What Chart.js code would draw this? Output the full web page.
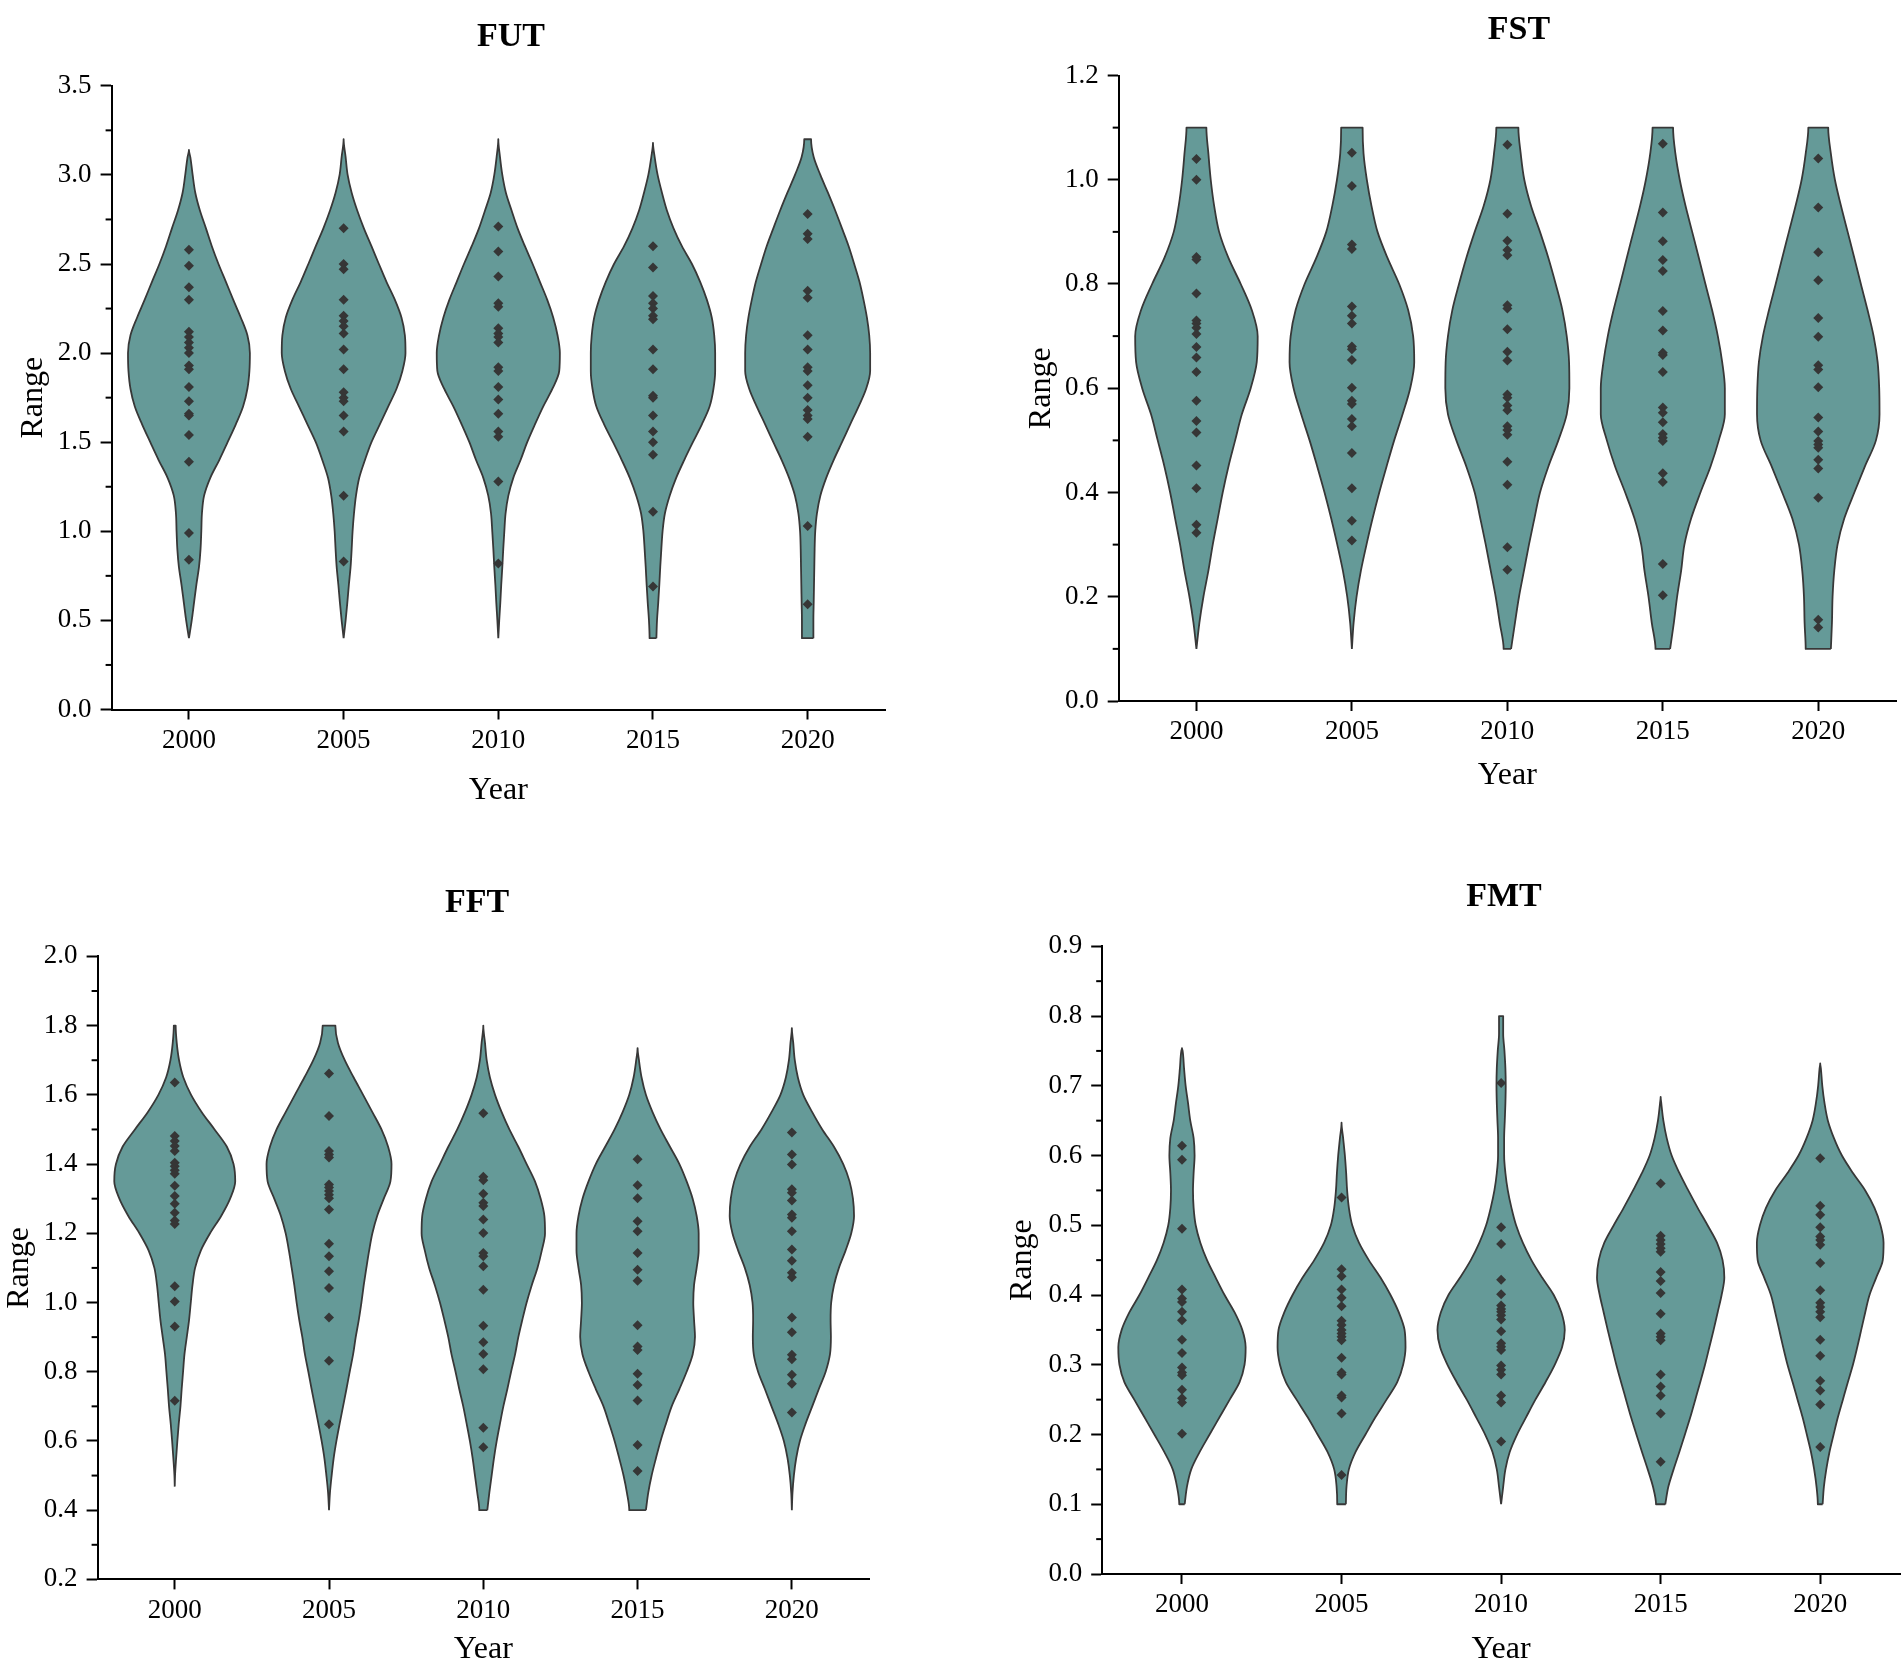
<!DOCTYPE html>
<html>
<head>
<meta charset="utf-8">
<script src="https://cdn.jsdelivr.net/npm/chart.js@4.4.1/dist/chart.umd.min.js"></script>
<style>
html,body{margin:0;padding:0;width:1902px;height:1663px;overflow:hidden;background:#fff;}
.panel{position:absolute;}
</style>
</head>
<body>
<div class="panel" id="w0"><canvas id="c0"></canvas></div>
<div class="panel" id="w1"><canvas id="c1"></canvas></div>
<div class="panel" id="w2"><canvas id="c2"></canvas></div>
<div class="panel" id="w3"><canvas id="c3"></canvas></div>
<script>
// ---------------- DATA ----------------
const years = [2000, 2005, 2010, 2015, 2020];

// FUT
const futYTicks = [0.0, 0.5, 1.0, 1.5, 2.0, 2.5, 3.0, 3.5];
const futLevels = [0.4,0.5,0.6,0.7,0.8,0.9,1.0,1.1,1.2,1.3,1.4,1.5,1.6,1.7,1.8,1.9,2.0,2.1,2.2,2.3,2.4,2.5,2.6,2.7,2.8,2.9,3.0,3.1,3.2];
const futWidth = [
  [0,1.8,3.3,4.8,6.5,7.5,8.0,8.4,9.8,13.8,19.6,25,30.3,35,37.8,39.1,39.4,37.8,33.5,28.6,23.9,19.1,14.8,11,7.1,4.1,2.4,0.9,null],
  [0,1.3,2.4,3.4,4.5,5.2,5.8,6.7,8,10.1,13.8,18,23.4,28.8,34.2,38,40,39.6,37.4,33.1,27.7,22.8,18,13.1,8.8,5.2,2.6,1.3,0],
  [0,0.6,1.3,1.9,2.6,3.2,3.9,4.7,6.5,9.7,14.4,18.7,23.7,29,35,39.4,39.8,38.3,35.5,31.6,26.9,22.2,17.2,12.5,8.6,4.9,2.6,1.1,0],
  [2.2,2.6,3.4,4.1,4.7,5.4,6.2,7.7,10.8,15,20.2,25.8,31.6,36.6,39.1,40.2,40.2,39.6,38,34.8,30.5,25.2,18.7,13.3,9,5.8,3,1.1,null],
  [3.7,3.7,3.9,4.1,4.3,4.5,4.9,6,8.2,12,16.8,22.2,27.5,32.9,37.8,40.4,40.4,39.8,38.3,36.1,33.5,30.1,26.5,22.2,17.8,13.1,8.2,3.9,2.2]
];
const futTop = [3.14, 3.2, 3.2, 3.18, 3.2];
const futBottom = [0.4, 0.4, 0.4, 0.4, 0.4];
const futPoints = [
  [2.58,2.49,2.37,2.30,2.12,2.09,2.06,2.03,2.00,1.93,1.91,1.81,1.73,1.66,1.65,1.54,1.39,0.99,0.84],
  [2.70,2.50,2.47,2.30,2.21,2.18,2.15,2.11,2.02,1.91,1.78,1.75,1.73,1.65,1.56,1.20,0.83],
  [2.71,2.57,2.43,2.28,2.26,2.14,2.11,2.09,2.06,1.92,1.90,1.81,1.74,1.66,1.56,1.53,1.28,0.82],
  [2.60,2.48,2.32,2.28,2.25,2.21,2.19,2.02,1.91,1.76,1.75,1.65,1.56,1.50,1.43,1.11,0.69],
  [2.78,2.67,2.64,2.35,2.31,2.10,2.02,1.92,1.90,1.82,1.75,1.68,1.65,1.63,1.53,1.03,0.59]
];

// FST
const fstYTicks = [0.0, 0.2, 0.4, 0.6, 0.8, 1.0, 1.2];
const fstLevels = [0.1,0.15,0.2,0.25,0.3,0.35,0.4,0.45,0.5,0.55,0.6,0.65,0.7,0.75,0.8,0.85,0.9,0.95,1.0,1.05,1.1];
const fstWidth = [
  [0,1.9,4.5,7.7,10.5,13.7,16.9,20.6,24.9,29.2,34.9,38.8,39.4,35.6,28.5,20.6,14.6,11.4,9.2,7.7,6.4],
  [0,1.1,3,5.8,9.4,13.3,17.6,22.3,27.2,32.6,37.5,40.1,39.4,36.2,30.4,22.9,16.5,12.6,9.6,7.5,6.9],
  [2.4,4.9,7.5,10.7,13.9,17.4,21,26.4,32.8,38.2,39.9,39.7,38.2,35.4,31.1,26.4,21,15.2,10.9,8.6,7.1],
  [4.7,7.1,9.2,11.8,13.9,18.2,24.2,30.7,36,39.9,39.9,38.2,35.4,31.7,27.4,23.2,18.9,14.6,10.9,8.1,6.6],
  [8.1,8.8,9.2,10.3,12.4,16.7,23.2,30,37.1,39.4,39.2,38.2,35.6,31.7,27.4,23.2,18.9,14.6,10.7,8.1,6.4]
];
const fstTop = [1.1, 1.1, 1.1, 1.1, 1.1];
const fstBottom = [0.1, 0.1, 0.1, 0.1, 0.1];
const fstPoints = [
  [1.040,1.000,0.852,0.847,0.782,0.730,0.724,0.716,0.704,0.679,0.659,0.631,0.576,0.537,0.515,0.452,0.408,0.338,0.323],
  [1.052,0.988,0.876,0.867,0.757,0.739,0.724,0.680,0.675,0.654,0.601,0.576,0.570,0.541,0.527,0.476,0.408,0.346,0.308],
  [1.067,0.935,0.883,0.865,0.855,0.759,0.753,0.713,0.670,0.653,0.588,0.582,0.567,0.558,0.527,0.520,0.511,0.459,0.415,0.295,0.252],
  [1.069,0.937,0.882,0.846,0.825,0.748,0.711,0.668,0.664,0.631,0.563,0.553,0.535,0.512,0.505,0.499,0.437,0.420,0.263,0.203],
  [1.041,0.947,0.861,0.807,0.735,0.699,0.644,0.636,0.602,0.544,0.517,0.499,0.492,0.486,0.463,0.446,0.390,0.156,0.141]
];

// FFT
const fftYTicks = [0.2, 0.4, 0.6, 0.8, 1.0, 1.2, 1.4, 1.6, 1.8, 2.0];
const fftLevels = [0.4,0.45,0.5,0.55,0.6,0.65,0.7,0.75,0.8,0.85,0.9,0.95,1.0,1.05,1.1,1.15,1.2,1.25,1.3,1.35,1.4,1.45,1.5,1.55,1.6,1.65,1.7,1.75,1.8];
const fftWidth = [
  [null,null,0.2,0.9,1.7,2.6,3.7,4.5,5.4,6.3,7.8,9.3,10.4,11.5,13.2,16.9,22.9,30.1,35.9,39.2,38.1,33.8,25.8,17.5,10.6,5.6,2.8,1.3,0.6],
  [0,0.6,1.7,3,4.8,6.9,9.1,11.3,13.4,15.6,17.3,19.3,21,22.5,24.2,26,28.1,31.2,35.5,39.8,40.5,38.3,34,28.1,22.1,16,10.2,5.8,4.1],
  [2.6,3.9,5.4,6.9,8.7,10.8,13,15.6,18,20.6,22.7,25.3,28.1,31.4,35.1,37.9,40,39.6,37.2,33.5,28.1,22.7,16.9,11.9,7.6,4.3,2.2,1.1,0],
  [5.4,6.9,9.1,11.9,14.9,18.4,22.1,27.1,31.8,35.7,37.2,36.6,36.1,36.6,38.3,39.6,39.6,38.3,35.7,31.8,27.1,21,14.9,9.7,5.4,2.6,0.9,null,null],
  [0,0.4,1.3,2.8,5.2,8.9,13.2,17.5,21.9,24.7,25.3,25.1,25.5,27.3,30.5,34.8,38.5,40.3,39.6,37.4,33.3,27.3,19.7,13.2,7.4,3.9,1.9,0.9,null]
];
const fftTop = [1.8, 1.8, 1.8, 1.735, 1.793];
const fftBottom = [0.468, 0.4, 0.4, 0.4, 0.4];
const fftPoints = [
  [1.636,1.481,1.467,1.452,1.438,1.404,1.394,1.382,1.372,1.337,1.308,1.285,1.259,1.237,1.227,1.047,1.003,0.931,0.716],
  [1.662,1.539,1.438,1.428,1.419,1.341,1.332,1.322,1.311,1.301,1.269,1.170,1.134,1.090,1.042,0.957,0.832,0.648],
  [1.547,1.363,1.353,1.314,1.288,1.279,1.240,1.201,1.143,1.134,1.105,1.037,0.933,0.885,0.851,0.807,0.638,0.582],
  [1.414,1.339,1.301,1.235,1.206,1.143,1.095,1.063,0.934,0.873,0.863,0.794,0.762,0.717,0.588,0.513],
  [1.491,1.428,1.399,1.327,1.317,1.295,1.254,1.245,1.206,1.153,1.121,1.086,1.073,0.957,0.914,0.849,0.836,0.791,0.765,0.682]
];

// FMT
const fmtYTicks = [0.0, 0.1, 0.2, 0.3, 0.4, 0.5, 0.6, 0.7, 0.8, 0.9];
const fmtLevels = [0.1,0.125,0.15,0.175,0.2,0.225,0.25,0.275,0.3,0.325,0.35,0.375,0.4,0.425,0.45,0.475,0.5,0.525,0.55,0.575,0.6,0.625,0.65,0.675,0.7,0.725,0.75,0.775,0.8];
const fmtWidth = [
  [1.7,3.1,5.8,11.1,17.3,23.6,29.9,36.1,39.2,39.9,37.8,33,26.7,21.1,15.7,11.5,8.6,7.3,6.9,7.3,7.9,7.3,5.2,3.8,2.3,1.3,0.4,null,null],
  [2.7,3.1,4.6,8.8,15,21.3,28.2,34.9,38.6,40.1,39.5,35.9,30.7,24.4,17.1,10.9,6.7,4.6,3.5,2.9,2.1,1,null,null,null,null,null,null,null],
  [0,1.3,2.7,5.4,10,15.7,21.5,27.8,33.6,38.2,39.9,37.8,33,25.7,19,13.6,9.4,6.5,4.2,2.7,1.9,1.9,2.3,2.7,2.9,2.7,2.1,1.3,1.3],
  [2.9,4.8,8.1,11.7,15.2,18.6,21.7,24.8,27.8,30.5,33.2,35.7,38.2,39.9,38.8,35.3,29.4,23.2,17.3,11.7,6.9,3.8,1.7,0.4,null,null,null,null,null],
  [1.5,2.3,3.8,5.8,8.4,11.1,14.2,17.3,20.5,23.2,25.7,28.2,30.9,35.1,39.2,39.7,37.8,34,28.2,20.5,13.6,8.6,4.8,2.7,1.3,0.4,null,null,null]
];
const fmtTop = [0.754, 0.647, 0.8, 0.684, 0.732];
const fmtBottom = [0.1, 0.1, 0.1, 0.1, 0.1];
const fmtPoints = [
  [0.614,0.594,0.495,0.408,0.395,0.390,0.376,0.364,0.336,0.317,0.296,0.289,0.285,0.264,0.252,0.246,0.201],
  [0.540,0.437,0.427,0.408,0.396,0.384,0.363,0.357,0.350,0.345,0.340,0.335,0.310,0.289,0.286,0.256,0.253,0.230,0.142],
  [0.704,0.497,0.473,0.422,0.401,0.385,0.380,0.376,0.371,0.365,0.348,0.331,0.326,0.321,0.299,0.293,0.286,0.256,0.246,0.190],
  [0.560,0.485,0.479,0.473,0.467,0.462,0.433,0.420,0.403,0.373,0.345,0.340,0.335,0.286,0.269,0.256,0.230,0.161],
  [0.596,0.528,0.515,0.497,0.484,0.479,0.472,0.446,0.407,0.389,0.383,0.376,0.368,0.336,0.313,0.277,0.263,0.243,0.182]
];

// ---------------- LAYOUT / STYLE ----------------
const panels = [
  {id:'c0', wrap:'w0', title:'FUT', yTicks:futYTicks, levels:futLevels, widths:futWidth, tops:futTop, bottoms:futBottom, points:futPoints,
   left:0, top:0, w:1022, h:830, yw:111.6, xh:120.5, rw:137, tp:[16.6,28.4], rangePad:14.3, yearPad:19.8},
  {id:'c1', wrap:'w1', title:'FST', yTicks:fstYTicks, levels:fstLevels, widths:fstWidth, tops:fstTop, bottoms:fstBottom, points:fstPoints,
   left:1000, top:0, w:1038, h:830, yw:118.7, xh:129, rw:142, tp:[9.6,25.1], rangePad:22.8, yearPad:34.8},
  {id:'c2', wrap:'w2', title:'FFT', yTicks:fftYTicks, levels:fftLevels, widths:fftWidth, tops:fftTop, bottoms:fftBottom, points:fftPoints,
   left:0, top:833, w:954, h:850, yw:97.6, xh:103.6, rw:85, tp:[49.6,33], rangePad:0, yearPad:13.8},
  {id:'c3', wrap:'w3', title:'FMT', yTicks:fmtYTicks, levels:fmtLevels, widths:fmtWidth, tops:fmtTop, bottoms:fmtBottom, points:fmtPoints,
   left:1000, top:833, w:1008, h:850, yw:102.2, xh:109, rw:108, tp:[43.6,28.9], rangePad:3.8, yearPad:13.8}
];

const SLOT = 5;            // years between categories
const FILL = '#659a98';
const EDGE = '#383838';
const DOT = '#363636';

Chart.defaults.font.family = "'Liberation Serif', 'Times New Roman', serif";
Chart.defaults.color = '#000';

// outline of one violin: up the right side, down the left side
function violinOutline(center, levels, w, bottom, top) {
  const pts = [];
  levels.forEach((y, k) => { if (w[k] !== null && w[k] !== undefined) pts.push([y, w[k]]); });
  if (bottom < pts[0][0] - 1e-9) pts.unshift([bottom, 0]);
  if (top > pts[pts.length - 1][0] + 1e-9) pts.push([top, 0]);
  const k = SLOT / 100;
  const out = [];
  pts.forEach(([y, ww]) => out.push({x: center + ww * k, y: y}));
  for (let i = pts.length - 1; i >= 0; i--) {
    const [y, ww] = pts[i];
    if (ww === 0 && (i === pts.length - 1 || i === 0)) continue;
    out.push({x: center - ww * k, y: y});
  }
  out.push({x: out[0].x, y: out[0].y});
  return out;
}

const minorTicks = {
  id: 'minorTicks',
  afterDraw(chart, args, opts) {
    const s = chart.scales.y;
    const ctx = chart.ctx;
    ctx.save();
    ctx.strokeStyle = '#000';
    ctx.lineWidth = 2;
    (opts.values || []).forEach(v => {
      const py = s.getPixelForValue(v);
      ctx.beginPath();
      ctx.moveTo(s.right - 6, py);
      ctx.lineTo(s.right, py);
      ctx.stroke();
    });
    ctx.restore();
  }
};

panels.forEach(p => {
  const wrap = document.getElementById(p.wrap);
  wrap.style.left = p.left + 'px';
  wrap.style.top = p.top + 'px';
  wrap.style.width = p.w + 'px';
  wrap.style.height = p.h + 'px';

  const minors = [];
  for (let i = 0; i < p.yTicks.length - 1; i++) minors.push((p.yTicks[i] + p.yTicks[i + 1]) / 2);

  const datasets = [{
    type: 'scatter',
    data: p.points.flatMap((arr, i) => arr.map(v => ({x: years[i], y: v}))),
    pointStyle: 'rectRot', pointRadius: 5, pointHoverRadius: 5,
    backgroundColor: DOT, borderColor: DOT, borderWidth: 0,
    order: 0, xAxisID: 'x', yAxisID: 'y'
  }];
  years.forEach((yr, i) => {
    datasets.push({
      type: 'line',
      data: violinOutline(yr, p.levels, p.widths[i], p.bottoms[i], p.tops[i]),
      indexAxis: 'y',
      cubicInterpolationMode: 'monotone',
      fill: 'shape',
      backgroundColor: FILL,
      borderColor: EDGE,
      borderWidth: 1.8,
      borderJoinStyle: 'round',
      pointRadius: 0, pointHoverRadius: 0,
      order: 1, xAxisID: 'x', yAxisID: 'y'
    });
  });

  new Chart(document.getElementById(p.id), {
    type: 'scatter',
    data: {datasets},
    plugins: [minorTicks],
    options: {
      responsive: true,
      maintainAspectRatio: false,
      animation: false,
      events: [],
      layout: {padding: 0},
      plugins: {
        legend: {display: false},
        tooltip: {enabled: false},
        title: {display: true, text: p.title, color: '#000',
                font: {size: 34, weight: 'bold'}, padding: {top: p.tp[0], bottom: p.tp[1]}},
        minorTicks: {values: minors}
      },
      scales: {
        x: {
          type: 'linear', position: 'bottom',
          min: years[0] - SLOT / 2, max: years[years.length - 1] + SLOT / 2,
          afterBuildTicks: s => { s.ticks = years.map(v => ({value: v})); },
          afterFit: s => { s.height = p.xh; },
          grid: {display: true, drawOnChartArea: false, drawTicks: true, tickLength: 10, tickColor: '#000', tickWidth: 2},
          border: {display: true, color: '#000', width: 2},
          ticks: {font: {size: 27}, color: '#000', padding: 5, autoSkip: false, maxRotation: 0, callback: v => String(v)},
          title: {display: true, text: 'Year', color: '#000', font: {size: 32}, padding: {top: 0, bottom: p.yearPad}}
        },
        y: {
          type: 'linear', position: 'left',
          min: p.yTicks[0], max: p.yTicks[p.yTicks.length - 1],
          afterBuildTicks: s => { s.ticks = p.yTicks.map(v => ({value: v})); },
          afterFit: s => { s.width = p.yw; },
          grid: {display: true, drawOnChartArea: false, drawTicks: true, tickLength: 11, tickColor: '#000', tickWidth: 2},
          border: {display: true, color: '#000', width: 2},
          ticks: {font: {size: 27}, color: '#000', padding: 9, callback: v => Number(v).toFixed(1)},
          title: {display: true, text: 'Range', color: '#000', font: {size: 32}, padding: {top: p.rangePad, bottom: 0}}
        },
        y2: {
          type: 'linear', position: 'right', display: true,
          afterFit: s => { s.width = p.rw; },
          grid: {display: false}, border: {display: false},
          ticks: {display: false}, title: {display: false}
        }
      }
    }
  });
});
</script>
</body>
</html>
